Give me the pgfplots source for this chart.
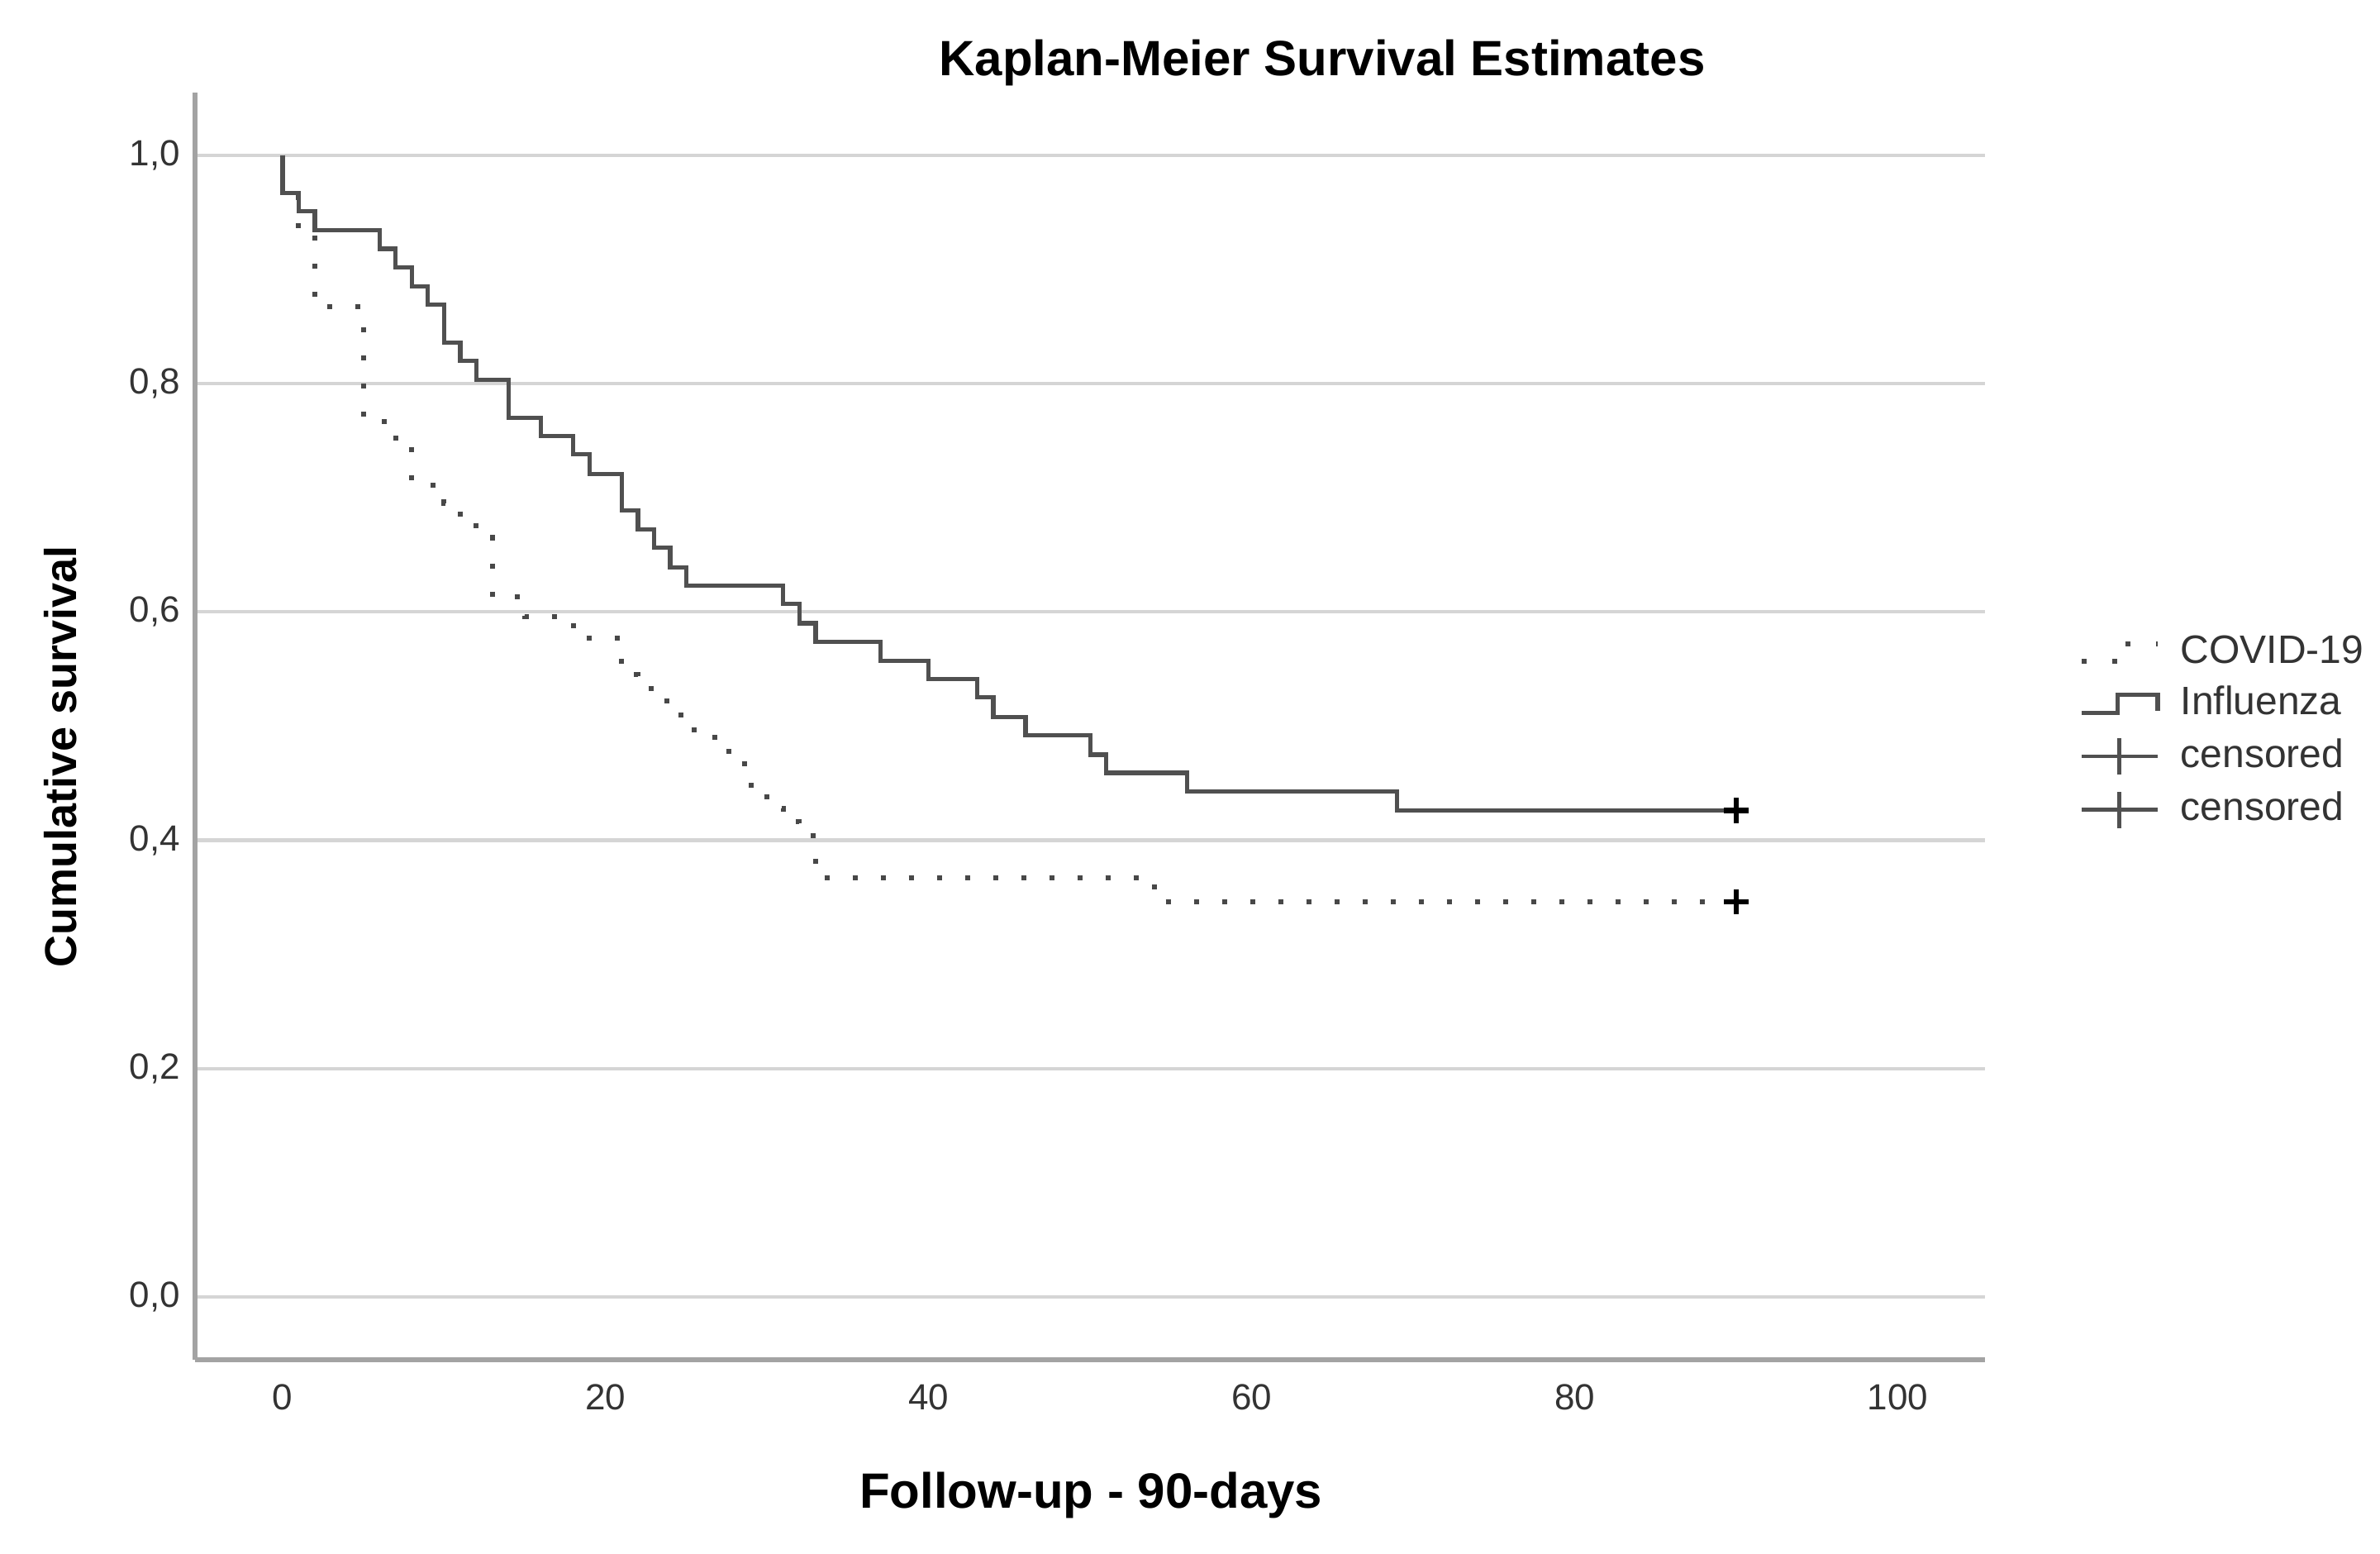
\documentclass[border=0pt]{standalone}
\usepackage{pgfplots}
\pgfplotsset{compat=1.18}
\usepackage{fontspec}
\setmainfont{Liberation Sans}

\definecolor{kmline}{HTML}{505050}
\definecolor{kmdot}{HTML}{484848}
\definecolor{spine}{HTML}{A3A3A3}
\definecolor{gridc}{HTML}{D5D5D5}
\definecolor{ticktxt}{HTML}{333333}

% Kaplan-Meier steps (day, cumulative survival)
\pgfplotstableread{
day surv
0 1.000
0 0.967
1 0.933
2 0.867
5 0.767
7 0.745
8 0.711
10 0.695
11 0.680
12 0.665
13 0.613
15 0.596
18 0.577
21 0.545
22 0.533
23 0.522
24 0.510
25 0.497
26 0.490
27 0.478
28 0.467
29 0.445
30 0.428
31 0.416
32 0.404
33 0.367
54 0.346
90 0.346
}\covid

\pgfplotstableread{
day surv
0 1.000
0 0.967
1 0.951
2 0.934
6 0.918
7 0.902
8 0.885
9 0.869
10 0.836
11 0.820
12 0.803
14 0.770
16 0.754
18 0.738
19 0.721
21 0.689
22 0.672
23 0.656
24 0.639
25 0.623
31 0.607
32 0.590
33 0.574
37 0.557
40 0.541
43 0.525
44 0.508
46 0.492
50 0.475
51 0.459
56 0.443
69 0.426
90 0.426
}\flu

\begin{document}
\begin{tikzpicture}[x=1pt,y=1pt]
\useasboundingbox (0,0) rectangle (720,470);
\begin{axis}[
    at={(59pt,58.75pt)}, anchor=south west,
    scale only axis,
    width=541.5pt, height=383.3pt,
    xmin=-5.42, xmax=105.4,
    ymin=-0.055, ymax=1.055,
    axis x line=bottom, axis y line=left,
    axis line style={-, draw=spine, line width=1.3pt},
    xtick={0,20,40,60,80,100},
    ytick={0,0.2,0.4,0.6,0.8,1.0},
    major tick length=0pt,
    ymajorgrids=true,
    grid style={draw=gridc, line width=1.1pt},
    /pgf/number format/assume math mode=true,
    yticklabel style={/pgf/number format/fixed, /pgf/number format/fixed zerofill,
        /pgf/number format/precision=1, /pgf/number format/use comma, xshift=-1pt},
    ticklabel style={font=\fontsize{11}{13}\selectfont, text=ticktxt},
    xticklabel style={yshift=-4pt},
    title={\bfseries Kaplan-Meier Survival Estimates},
    title style={at={(0.6297,1.0078)}, anchor=center, font=\fontsize{15}{18}\selectfont},
    xlabel={\bfseries Follow-up - 90-days},
    xlabel style={at={(0.5005,-0.107)}, anchor=center, font=\fontsize{15}{18}\selectfont},
    ylabel={\bfseries Cumulative survival},
    ylabel style={at={(-0.0753,0.476)}, anchor=center, font=\fontsize{13.5}{16}\selectfont},
    legend cell align=left,
    legend style={at={(1.0522,0.5734)}, anchor=north west, draw=none, fill=none,
        inner sep=0pt, row sep=4pt, font=\fontsize{12}{14}\selectfont,
        nodes={inner sep=0pt, text height=9pt, text depth=2.5pt, text=ticktxt},
        /tikz/every odd column/.style={column sep=6.2pt}},
]
\addplot[const plot, draw=kmdot, line width=1.5pt, dash pattern=on 1.5pt off 7pt,
    legend image code/.code={
        \draw[draw=kmdot, line width=1.5pt, dash pattern=on 1.5pt off 7.8pt]
            (0pt,-2.7pt) -- (11pt,-2.7pt) -- (11pt,2.7pt) -- (23pt,2.7pt);}]
    table[x=day, y=surv] {\covid};
\addlegendentry{COVID-19}
\addplot[const plot, draw=kmline, line width=1.3pt,
    legend image code/.code={
        \draw[draw=kmline, line width=1.3pt]
            (0pt,-2.7pt) -- (11pt,-2.7pt) -- (11pt,2.7pt) -- (23pt,2.7pt) -- (23pt,-2.2pt);}]
    table[x=day, y=surv] {\flu};
\addlegendentry{Influenza}
\addplot[only marks, mark=+, mark size=3.8pt, mark options={line width=1.7pt, draw=black},
    legend image code/.code={
        \draw[draw=kmline, line width=1.2pt] (0pt,0pt) -- (23pt,0pt);
        \draw[draw=kmline, line width=1.2pt] (11.5pt,-5.5pt) -- (11.5pt,5.5pt);}]
    coordinates {(90,0.346)};
\addlegendentry{censored}
\addplot[only marks, mark=+, mark size=3.8pt, mark options={line width=1.7pt, draw=black},
    legend image code/.code={
        \draw[draw=kmline, line width=1.2pt] (0pt,0pt) -- (23pt,0pt);
        \draw[draw=kmline, line width=1.2pt] (11.5pt,-5.5pt) -- (11.5pt,5.5pt);}]
    coordinates {(90,0.426)};
\addlegendentry{censored}
\end{axis}
\end{tikzpicture}
\end{document}
